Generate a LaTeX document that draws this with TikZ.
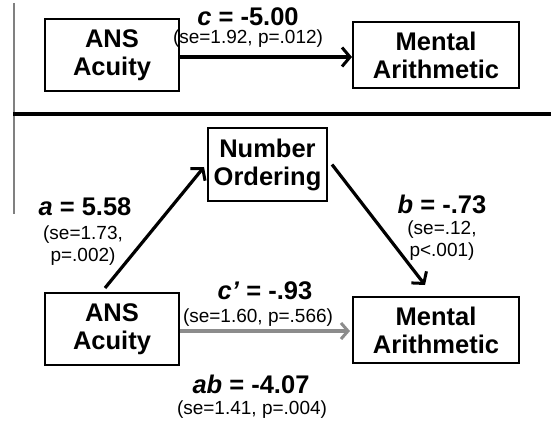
\documentclass[tikz,border=0pt]{standalone}
\usepackage{fontspec}
\setmainfont{Liberation Sans}
\usetikzlibrary{arrows.meta,calc}
\definecolor{arrgray}{HTML}{8C8C8C}
\definecolor{rulegray}{HTML}{808080}
\tikzset{
  box/.style={draw=black, line width=2pt, fill=white, align=center, inner sep=0pt,
    font=\fontsize{25.5}{28}\selectfont\bfseries},
  coef/.style={inner sep=0pt, font=\fontsize{25.5}{28}\selectfont\bfseries},
  stat/.style={inner sep=0pt, align=center, font=\fontsize{19}{22}\selectfont},
  arr/.style={line width=3.2pt, -{Straight Barb[length=8pt,width=19pt,line width=3pt]}},
  grayarr/.style={line width=3.4pt, draw=arrgray, -{Straight Barb[length=7pt,width=16pt,line width=3pt]}},
}
\begin{document}
\begin{tikzpicture}[x=1pt,y=-1pt]
\useasboundingbox (0,0) rectangle (551,422);
% frame lines
\draw[rulegray, line width=2pt] (14,3) -- (14,214);
\draw[black, line width=3.5pt] (13,114) -- (551,114);
% top panel
\node[box, minimum width=134pt, minimum height=72pt] (topA) at (112,55) {ANS\\Acuity};
\node[box, minimum width=166pt, minimum height=66pt] (topM) at (436,55) {Mental\\Arithmetic};
\draw[arr] ($(topA.east)+(0,2)$) -- ($(topM.west)+(0,2)$);
\node[coef] (lc) at (248,17) {\textit{c} = -5.00};
\node[stat] (lcs) at (248,39) {(se=1.92, p=.012)};
% bottom panel
\node[box, minimum width=119pt, minimum height=73pt] (num) at (267.5,164.5) {Number\\Ordering};
\node[box, minimum width=134pt, minimum height=72pt] (botA) at (112,329) {ANS\\Acuity};
\node[box, minimum width=166pt, minimum height=66pt] (botM) at (436,330) {Mental\\Arithmetic};
\draw[arr] ($(botA.north)+(-7,-4)$) -- ($(num.west)+(-3,2.5)$);
\draw[arr] ($(num.east)+(4,0)$) -- ($(botM.north)+(-11,-11)$);
\draw[grayarr] ($(botA.east)+(0,2)$) -- ($(botM.west)+(-2,1)$);
\node[coef] (la) at (85,207) {\textit{a} = 5.58};
\node[stat] (las) at (83,246) {(se=1.73,\\p=.002)};
\node[coef] (lb) at (442,204) {\textit{b} = -.73};
\node[stat] (lbs) at (442,241) {(se=.12,\\p<.001)};
\node[coef] (lcp) at (265,291) {\textit{c'} = -.93};
\node[stat] (lcps) at (258,318) {(se=1.60, p=.566)};
\node[coef] (lab) at (251,384) {\textit{ab} = -4.07};
\node[stat] (labs) at (252,410) {(se=1.41, p=.004)};
\end{tikzpicture}
\end{document}
